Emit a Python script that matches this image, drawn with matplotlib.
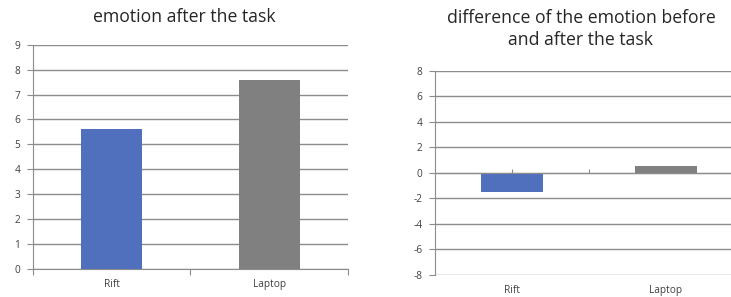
import matplotlib
matplotlib.use("Agg")
import matplotlib.pyplot as plt
import numpy as np

# data
categories = ["Rift", "Laptop"]
after_task = [5.6, 7.6]
difference = [-1.5, 0.5]
bar_colors = ["#5070be", "#808080"]

plt.rcParams['font.family'] = ['Open Sans', 'DejaVu Sans']
plt.rcParams['axes.unicode_minus'] = False

grid_c = "#8c8c8c"
text_c = "#404040"

fig = plt.figure(figsize=(7.31, 2.97), dpi=100)

# ---------- left chart ----------
ax1 = fig.add_axes([0.0451, 0.0943, 0.4310, 0.7552])
x = np.arange(len(categories))
ax1.bar(x, after_task, width=0.39, color=bar_colors, zorder=3)
ax1.set_xlim(-0.5, 1.5)
ax1.set_ylim(0, 9)
ax1.set_yticks(range(0, 10))
ax1.yaxis.grid(True, color=grid_c, linewidth=1.0, zorder=0)
for s in ["top", "right"]:
    ax1.spines[s].set_visible(False)
for s in ["left", "bottom"]:
    ax1.spines[s].set_color(grid_c)
ax1.set_xticks([-0.5, 0.5, 1.5])
ax1.set_xticklabels([])
ax1.set_xticks(x, minor=True)
ax1.set_xticklabels(categories, minor=True)
ax1.tick_params(axis="x", which="major", length=4, color=grid_c)
ax1.tick_params(axis="x", which="minor", length=0, pad=7)
ax1.tick_params(axis="both", which="both", labelsize=7.3, labelcolor=text_c)
ax1.tick_params(axis="y", length=4, color=grid_c, pad=5)
fig.text(184.5 / 731, 1 - 17 / 297, "emotion after the task",
         fontsize=12.7, color="#262626", ha="center", va="center")

# ---------- right chart ----------
ax2 = fig.add_axes([0.5951, 0.0741, 0.4213, 0.6878])
ax2.bar(x, difference, width=0.40, color=bar_colors, zorder=3)
ax2.set_xlim(-0.5, 1.5)
ax2.set_ylim(-8, 8)
ax2.set_yticks(range(-8, 9, 2))
ax2.yaxis.grid(True, color=grid_c, linewidth=1.0, zorder=0)
for s in ["top", "right", "bottom"]:
    ax2.spines[s].set_visible(False)
ax2.spines["left"].set_color(grid_c)
ax2.set_xticks(x)
ax2.set_xticklabels(categories)
ax2.tick_params(axis="x", length=0, pad=7)
ax2.tick_params(axis="both", labelsize=7.3, labelcolor=text_c)
ax2.tick_params(axis="y", length=4, color=grid_c, pad=5)
sec = ax2.secondary_xaxis(0.5)
sec.set_xticks([0, 0.5])
sec.set_xticklabels([])
sec.tick_params(direction="out", length=3, color=grid_c)
for sp in sec.spines.values():
    sp.set_color(grid_c)
sec.set_zorder(5)
fig.text(581 / 731, 1 - 29 / 297, "difference of the emotion before\nand after the task",
         fontsize=12.7, color="#262626", ha="center", va="center",
         linespacing=1.35)

fig.savefig("out.png", dpi=100)
